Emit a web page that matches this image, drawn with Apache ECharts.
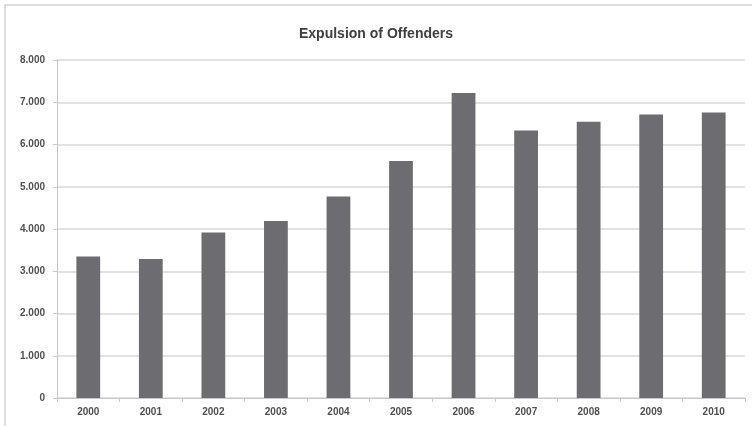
<!DOCTYPE html>
<html>
<head>
<meta charset="utf-8">
<script src="https://cdn.jsdelivr.net/npm/echarts@6/dist/echarts.min.js"></script>
<style>html,body{margin:0;padding:0;background:#fff}#c{width:752px;height:426px}</style>
</head>
<body>
<div id="c"></div>
<script>
var categories = ['2000','2001','2002','2003','2004','2005','2006','2007','2008','2009','2010'];
var expulsions = [3350, 3290, 3920, 4190, 4770, 5610, 7220, 6330, 6540, 6710, 6760];
var yTicks = { min: 0, max: 8000, interval: 1000 };
var titleText = 'Expulsion of Offenders';

var chart = echarts.init(document.getElementById('c'), null, { renderer: 'canvas' });
chart.setOption({
  backgroundColor: '#fff',
  animation: false,
  graphic: [{
    type: 'rect',
    shape: { x: 5, y: 5, width: 760, height: 440 },
    style: { fill: 'none', stroke: '#d4d4d4', lineWidth: 1.5 },
    silent: true
  }],
  title: {
    text: titleText,
    left: 'center',
    top: 22,
    textStyle: { fontFamily: 'Liberation Sans', fontWeight: 'bold', fontSize: 14, color: '#404040' }
  },
  grid: { left: 57, right: 7, top: 60, bottom: 28 },
  xAxis: {
    type: 'category',
    data: categories,
    axisLine: { lineStyle: { color: '#c8c8c8', width: 1 } },
    axisTick: { show: true, alignWithLabel: false, length: 4, lineStyle: { color: '#c8c8c8' } },
    axisLabel: { fontFamily: 'Liberation Sans', fontWeight: 'bold', fontSize: 10, color: '#505050', margin: 9 }
  },
  yAxis: {
    type: 'value',
    min: yTicks.min, max: yTicks.max, interval: yTicks.interval,
    axisLine: { show: true, lineStyle: { color: '#c8c8c8', width: 1 } },
    axisTick: { show: true, length: 4, lineStyle: { color: '#c8c8c8' } },
    splitLine: { lineStyle: { color: '#d9d9d9', width: 1.5 } },
    axisLabel: {
      fontFamily: 'Liberation Sans', fontWeight: 'bold', fontSize: 10, color: '#505050', margin: 12,
      formatter: function (v) { return v === 0 ? '0' : (v / 1000).toFixed(3); }
    }
  },
  series: [{
    type: 'bar',
    data: expulsions,
    barWidth: '38%',
    itemStyle: { color: '#6d6d71' }
  }]
});
</script>
</body>
</html>
